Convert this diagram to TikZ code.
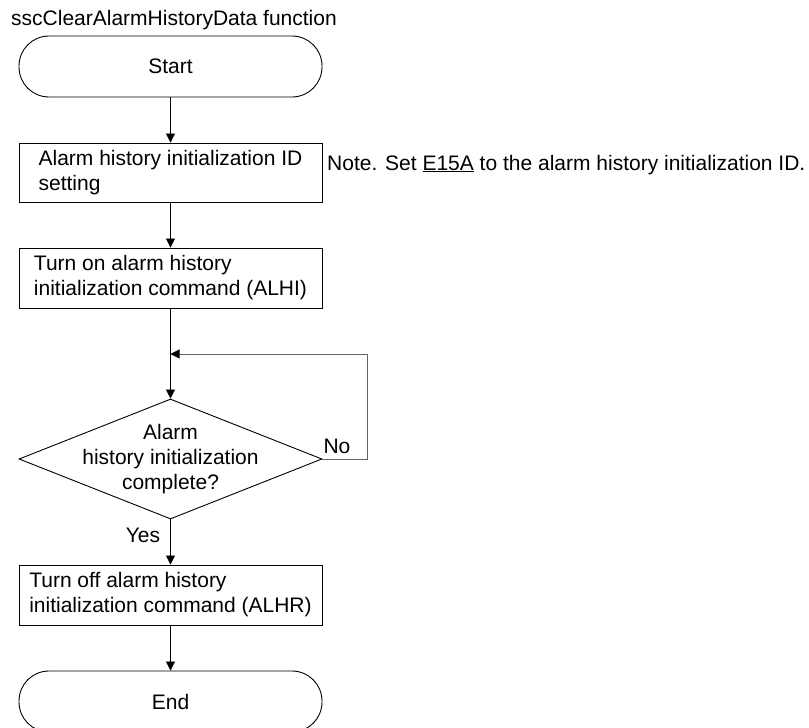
\documentclass[tikz,border=0pt]{standalone}
\usepackage{fontspec}
\setmainfont{Liberation Sans}
\usetikzlibrary{shapes.geometric,arrows.meta}
\begin{document}
\begin{tikzpicture}[x=1pt,y=-1pt,
  every node/.style={font=\fontsize{21}{25}\selectfont},
  term/.style={draw,line width=0.9pt,rounded corners=30pt,minimum width=303pt,minimum height=61pt,inner sep=0pt},
  proc/.style={draw,line width=0.9pt,minimum width=303pt,minimum height=60pt,inner sep=0pt,align=left},
  dec/.style={draw,line width=0.9pt,diamond,minimum width=303pt,minimum height=120pt,inner sep=0pt,aspect=2.5},
  plain/.style={inner sep=0pt},
  flow/.style={line width=0.8pt,-{Triangle[length=9pt,width=9pt]}},
  loopline/.style={line width=0.6pt,draw=black!60,-{Triangle[length=9pt,width=9pt,color=black]}}]
\clip (0,0) rectangle (809,728);
\useasboundingbox (0,0) rectangle (809,728);
\node[plain,anchor=base west] (title) at (11,25) {sscClearAlarmHistoryData function};
\node[term] (start) at (170.5,66.5) {Start};
\node[proc,minimum height=59pt] (b1) at (170.5,172.5) {Alarm history initialization ID\\setting};
\node[plain,anchor=base west] (note) at (327,170) {Note. Set \underline{E15A} to the alarm history initialization ID.};
\node[proc] (b2) at (170.5,278) {Turn on alarm history\\initialization command (ALHI)};
\node[dec] (dia) at (170.5,459) {};
\node[plain,align=center] (diatext) at (170.5,459) {Alarm\\history initialization\\complete?};
\node[proc] (b3) at (170.5,595) {Turn off alarm history\\initialization command (ALHR)};
\node[term] (end) at (170.5,701.5) {End};
\node[plain] (no) at (337,446) {No};
\node[plain] (yes) at (143,535) {Yes};
\coordinate (lr) at (367,459);
\coordinate (ur) at (367,354);
\coordinate (lin) at (170.5,354);
\draw[flow] (start.south) -- (b1.north);
\draw[flow] (b1.south) -- (b2.north);
\draw[flow] (b2.south) -- (dia.north);
\draw[loopline] (dia.east) -- (lr) -- (ur) -- (lin);
\draw[flow] (dia.south) -- (b3.north);
\draw[flow] (b3.south) -- (end.north);
\end{tikzpicture}
\end{document}
